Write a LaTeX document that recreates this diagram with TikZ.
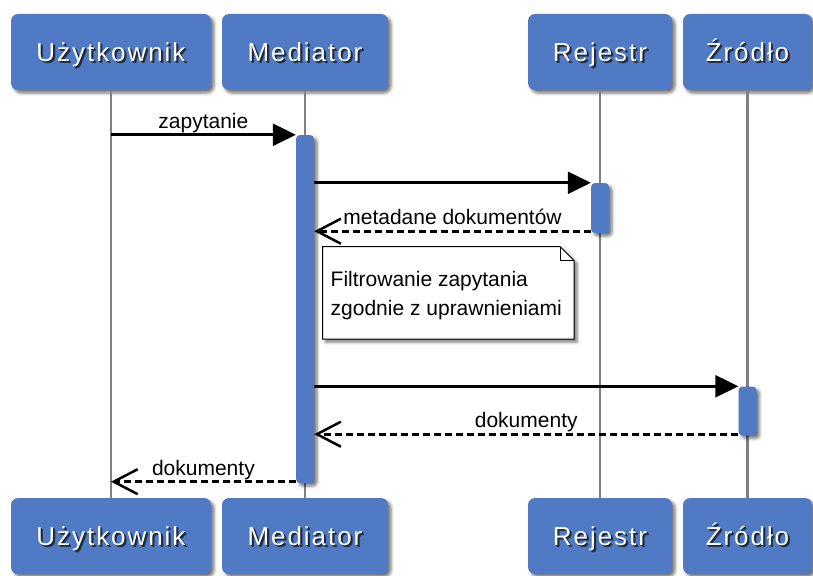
\documentclass[tikz,border=0pt]{standalone}
\usepackage{fontspec}
\setmainfont{Liberation Sans}
\newfontfamily\headfont[LetterSpace=7.5]{Liberation Sans}
\usetikzlibrary{arrows.meta,shadows.blur}

\definecolor{partblue}{RGB}{80,122,196}
\definecolor{lifegray}{RGB}{128,128,128}

% white heading text with a soft dark copy underneath
\newcommand\castshadow[1]{%
  \makebox[0pt][l]{\hspace{2.2pt}\raisebox{-2.2pt}{\textcolor{partblue!45!black}{#1}}}%
  \makebox[0pt][l]{\hspace{1.2pt}\raisebox{-1.2pt}{\textcolor{partblue!30!black}{#1}}}%
  #1}

\tikzset{
  softshadow/.style={blur shadow={shadow xshift=3pt, shadow yshift=-3pt,
      shadow blur radius=3pt, shadow opacity=55}},
  part/.style={fill=partblue, rounded corners=7pt, minimum height=76pt,
      inner sep=0pt, text=white, softshadow, text height=19pt, text depth=0pt,
      font=\headfont\fontsize{26}{30}\selectfont},
  lifeline/.style={draw=lifegray, line width=2.2pt},
  actbar/.style={fill=partblue, rounded corners=4pt, minimum width=18pt,
      inner sep=0pt, softshadow},
  call/.style={line width=2.8pt,
      -{Triangle[length=23pt,width=22pt,fill=black]}},
  reply/.style={line width=2.8pt, dash pattern=on 7pt off 4pt,
      -{Straight Barb[length=24pt,width=25pt,line width=2.5pt]}},
  msglabel/.style={font=\fontsize{21}{25}\selectfont, anchor=base,
      yshift=6.5pt, inner sep=0pt},
  notebox/.style={fill=white, draw=black, line width=1pt, softshadow},
}

\begin{document}
\begin{tikzpicture}[x=1pt,y=-1pt]
\useasboundingbox (0,0) rectangle (813,575);

% participants, top row
\node[part, minimum width=200pt] (uTop) at (111,52)   {\castshadow{Użytkownik}};
\node[part, minimum width=166pt] (mTop) at (305,52)   {\castshadow{Mediator}};
\node[part, minimum width=144pt] (rTop) at (600,52)   {\castshadow{Rejestr}};
\node[part, minimum width=129pt] (zTop) at (747.5,52) {\castshadow{Źródło}};

% participants, bottom row
\node[part, minimum width=200pt] (uBot) at (111,536)   {\castshadow{Użytkownik}};
\node[part, minimum width=166pt] (mBot) at (305,536)   {\castshadow{Mediator}};
\node[part, minimum width=144pt] (rBot) at (600,536)   {\castshadow{Rejestr}};
\node[part, minimum width=129pt] (zBot) at (747.5,536) {\castshadow{Źródło}};

% lifelines
\draw[lifeline] (uTop.south) -- (uBot.north);
\draw[lifeline] (mTop.south) -- (mBot.north);
\draw[lifeline] (rTop.south) -- (rBot.north);
\draw[lifeline] (zTop.south) -- (zBot.north);

% activation bars
\node[actbar, minimum height=348pt] (actM) at (305,309)   {};
\node[actbar, minimum height=50pt]  (actR) at (600,208)   {};
\node[actbar, minimum height=49pt]  (actZ) at (747.5,411) {};

% note with folded corner
\coordinate (nNW) at (322.5,246.5);
\coordinate (nNE) at (574,246.5);
\coordinate (nSE) at (574,339);
\coordinate (nSW) at (322.5,339);
\path[notebox] (nNW) -- ([xshift=-14pt]nNE) -- ([yshift=-14pt]nNE)
  -- (nSE) -- (nSW) -- cycle;
\draw[line width=1pt] ([xshift=-14pt]nNE) -- ([xshift=-14pt,yshift=-14pt]nNE)
  -- ([yshift=-14pt]nNE);
\node[font=\fontsize{21}{28.3}\selectfont, align=left, inner sep=0pt,
      anchor=base west] (note) at (330.5,315)
  {Filtrowanie zapytania\\zgodnie z uprawnieniami};

% messages
\coordinate (q0) at (uTop.south |- actM.north);
\draw[call] (q0) -- node[msglabel]{zapytanie} (actM.north west);

\draw[call] (actM.east |- actR.north) -- (actR.north west);

\coordinate (r3) at ([yshift=2pt]actR.south west);
\draw[reply] (r3) -- node[msglabel]{metadane dokumentów} (actM.east |- r3);

\draw[call] (actM.east |- actZ.north) -- (actZ.north west);

\coordinate (z5) at ([yshift=1.5pt]actZ.south west);
\draw[reply] (z5) -- node[msglabel]{dokumenty} (actM.east |- z5);

\coordinate (m6) at ([yshift=1.5pt]actM.south west);
\draw[reply] (m6) -- node[msglabel]{dokumenty} (uTop.south |- m6);
\end{tikzpicture}
\end{document}
